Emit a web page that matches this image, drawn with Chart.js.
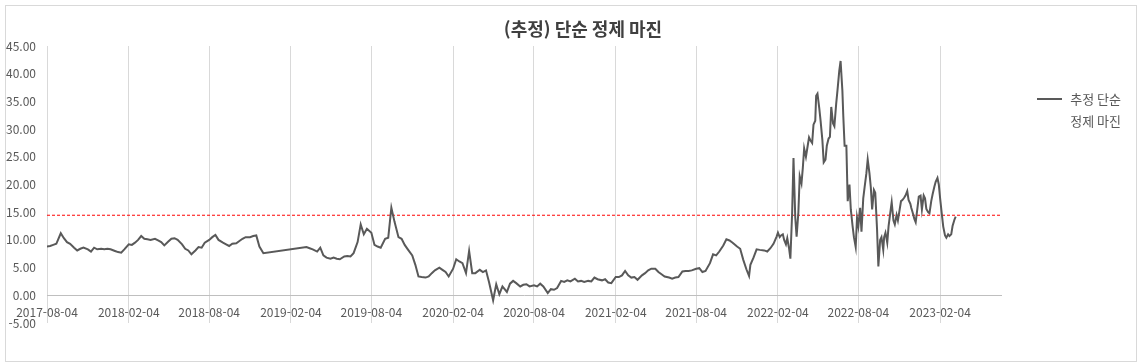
<!DOCTYPE html>
<html lang="ko">
<head>
<meta charset="utf-8">
<title>(추정) 단순 정제 마진</title>
<script src="https://cdn.jsdelivr.net/npm/chart.js@4.4.0/dist/chart.umd.min.js"></script>
<style>
  html, body { margin: 0; padding: 0; background: #fff; }
  #wrap { position: relative; width: 1144px; height: 364px; }
  #frame { position: absolute; left: 5px; top: 5px; width: 1130px; height: 355px; border: 1px solid #d9d9d9; pointer-events: none; }
  canvas { position: absolute; left: 0; top: 0; }
</style>
</head>
<body>
<div id="wrap">
  <canvas id="chart" width="1144" height="364"></canvas>
  <div id="frame"></div>
</div>
<script>
  const TITLE = "(추정) 단순 정제 마진";
  const legendLines = ["추정 단순", "정제 마진"];

  const tickLabels = [
    "2017-08-04", "2018-02-04", "2018-08-04", "2019-02-04", "2019-08-04", "2020-02-04",
    "2020-08-04", "2021-02-04", "2021-08-04", "2022-02-04", "2022-08-04", "2023-02-04",
  ];
  const axisStart = "2017-08-04";
  const axisEnd = "2023-06-21";
  const yMin = -5;
  const yMax = 45;
  const yStep = 5;
  const referenceLevel = 14.45;

  // one line per month, same layout in both arrays
  const dates = [
    "2017-08-04", "2017-08-11", "2017-08-18", "2017-08-25",
    "2017-09-04", "2017-09-11", "2017-09-18", "2017-09-25",
    "2017-10-04", "2017-10-11", "2017-10-18", "2017-10-25",
    "2017-11-04", "2017-11-11", "2017-11-18", "2017-11-25",
    "2017-12-04", "2017-12-11", "2017-12-18", "2017-12-25",
    "2018-01-04", "2018-01-11", "2018-01-18", "2018-01-25",
    "2018-02-04", "2018-02-11", "2018-02-18", "2018-02-25",
    "2018-03-04", "2018-03-11", "2018-03-18", "2018-03-25",
    "2018-04-04", "2018-04-11", "2018-04-18", "2018-04-25",
    "2018-05-04", "2018-05-11", "2018-05-18", "2018-05-25",
    "2018-06-04", "2018-06-11", "2018-06-18", "2018-06-25",
    "2018-07-04", "2018-07-11", "2018-07-18", "2018-07-25",
    "2018-08-04", "2018-08-11", "2018-08-18", "2018-08-25",
    "2018-09-04", "2018-09-11", "2018-09-18", "2018-09-25",
    "2018-10-04", "2018-10-11", "2018-10-18", "2018-10-25",
    "2018-11-04", "2018-11-11", "2018-11-18", "2018-11-25",
    "2018-12-04",
    "2019-03-11", "2019-03-18", "2019-03-25",
    "2019-04-04", "2019-04-11", "2019-04-18", "2019-04-25",
    "2019-05-04", "2019-05-11", "2019-05-18", "2019-05-25",
    "2019-06-04", "2019-06-11", "2019-06-18", "2019-06-25",
    "2019-07-04", "2019-07-11", "2019-07-18", "2019-07-25",
    "2019-08-04", "2019-08-11", "2019-08-18", "2019-08-25",
    "2019-09-04", "2019-09-11", "2019-09-18", "2019-09-25",
    "2019-10-04", "2019-10-11", "2019-10-18", "2019-10-25",
    "2019-11-04", "2019-11-11", "2019-11-18", "2019-11-25",
    "2019-12-04", "2019-12-11", "2019-12-18", "2019-12-25",
    "2020-01-04", "2020-01-11", "2020-01-18", "2020-01-25",
    "2020-02-04", "2020-02-11", "2020-02-18", "2020-02-25",
    "2020-03-04", "2020-03-11", "2020-03-18", "2020-03-25",
    "2020-04-04", "2020-04-11", "2020-04-18", "2020-04-25",
    "2020-05-04", "2020-05-11", "2020-05-18", "2020-05-25",
    "2020-06-04", "2020-06-11", "2020-06-18", "2020-06-25",
    "2020-07-04", "2020-07-11", "2020-07-18", "2020-07-25",
    "2020-08-04", "2020-08-11", "2020-08-18", "2020-08-25",
    "2020-09-04", "2020-09-11", "2020-09-18", "2020-09-25",
    "2020-10-04", "2020-10-11", "2020-10-18", "2020-10-25",
    "2020-11-04", "2020-11-11", "2020-11-18", "2020-11-25",
    "2020-12-04", "2020-12-11", "2020-12-18", "2020-12-25",
    "2021-01-04", "2021-01-11", "2021-01-18", "2021-01-25",
    "2021-02-04", "2021-02-11", "2021-02-18", "2021-02-25",
    "2021-03-04", "2021-03-11", "2021-03-18", "2021-03-25",
    "2021-04-04", "2021-04-11", "2021-04-18", "2021-04-25",
    "2021-05-04", "2021-05-11", "2021-05-18", "2021-05-25",
    "2021-06-04", "2021-06-11", "2021-06-18", "2021-06-25",
    "2021-07-04", "2021-07-11", "2021-07-18", "2021-07-25",
    "2021-08-04", "2021-08-11", "2021-08-18", "2021-08-25",
    "2021-09-04", "2021-09-11", "2021-09-18", "2021-09-25",
    "2021-10-04", "2021-10-11", "2021-10-18", "2021-10-25",
    "2021-11-04", "2021-11-11", "2021-11-18", "2021-11-25",
    "2021-12-01", "2021-12-04", "2021-12-11", "2021-12-18", "2021-12-25",
    "2022-01-04", "2022-01-11", "2022-01-18", "2022-01-25",
    "2022-02-01", "2022-02-04", "2022-02-08", "2022-02-11", "2022-02-15", "2022-02-18", "2022-02-22", "2022-02-25",
    "2022-03-01", "2022-03-04", "2022-03-08", "2022-03-11", "2022-03-15", "2022-03-18", "2022-03-22", "2022-03-25", "2022-03-29",
    "2022-04-01", "2022-04-04", "2022-04-08", "2022-04-11", "2022-04-15", "2022-04-18", "2022-04-22", "2022-04-25", "2022-04-29",
    "2022-05-01", "2022-05-04", "2022-05-08", "2022-05-11", "2022-05-15", "2022-05-18", "2022-05-22", "2022-05-25", "2022-05-29",
    "2022-06-01", "2022-06-04", "2022-06-08", "2022-06-11", "2022-06-15", "2022-06-18", "2022-06-22", "2022-06-25", "2022-06-29",
    "2022-07-01", "2022-07-04", "2022-07-08", "2022-07-11", "2022-07-15", "2022-07-18", "2022-07-22", "2022-07-25", "2022-07-29",
    "2022-08-01", "2022-08-04", "2022-08-08", "2022-08-11", "2022-08-15", "2022-08-18", "2022-08-22", "2022-08-25", "2022-08-29",
    "2022-09-01", "2022-09-04", "2022-09-08", "2022-09-11", "2022-09-15", "2022-09-18", "2022-09-22", "2022-09-25", "2022-09-29",
    "2022-10-01", "2022-10-04", "2022-10-08", "2022-10-11", "2022-10-15", "2022-10-18", "2022-10-22", "2022-10-25", "2022-10-29",
    "2022-11-01", "2022-11-04", "2022-11-08", "2022-11-11", "2022-11-15", "2022-11-18", "2022-11-22", "2022-11-25", "2022-11-29",
    "2022-12-01", "2022-12-04", "2022-12-08", "2022-12-11", "2022-12-15", "2022-12-18", "2022-12-22", "2022-12-25", "2022-12-29",
    "2023-01-01", "2023-01-04", "2023-01-08", "2023-01-11", "2023-01-15", "2023-01-18", "2023-01-22", "2023-01-25", "2023-01-29",
    "2023-02-01", "2023-02-04", "2023-02-08", "2023-02-11", "2023-02-15", "2023-02-18", "2023-02-22", "2023-02-25",
    "2023-03-01", "2023-03-04", "2023-03-08", "2023-03-11",
  ];

  const margins = [
    8.8, 8.9, 9.1, 9.3,
    11.2, 10.3, 9.6, 9.3,
    8.6, 8.1, 8.4, 8.6,
    8.3, 7.9, 8.6, 8.3,
    8.4, 8.3, 8.4, 8.3,
    8.0, 7.8, 7.7, 8.3,
    9.2, 9.1, 9.5, 10.0,
    10.7, 10.2, 10.1, 10.0,
    10.2, 9.9, 9.6, 9.0,
    9.7, 10.2, 10.3, 10.0,
    9.2, 8.4, 8.1, 7.4,
    8.1, 8.7, 8.6, 9.5,
    10.0, 10.5, 10.9, 10.0,
    9.5, 9.2, 8.9, 9.3,
    9.4, 9.8, 10.2, 10.5,
    10.5, 10.7, 10.8, 8.8,
    7.6,
    8.7, 8.5, 8.3,
    7.9, 8.6, 7.2, 6.8,
    6.6, 6.8, 6.6, 6.5,
    7.0, 7.1, 7.0, 7.6,
    9.6, 12.8, 11.0, 12.0,
    11.3, 9.1, 8.8, 8.6,
    10.2, 10.4, 15.8, 13.3,
    10.5, 10.2, 9.1, 8.3,
    7.2, 5.5, 3.4, 3.3,
    3.2, 3.4, 4.0, 4.5,
    5.0, 4.6, 4.2, 3.4,
    4.8, 6.5, 6.1, 5.8,
    4.0, 8.0, 4.0, 4.0,
    4.6, 4.2, 4.5, 2.3,
    -0.9, 2.0, 0.2, 1.6,
    0.6, 2.1, 2.6, 2.2,
    1.6, 1.9, 2.0, 1.6,
    1.8, 1.6, 2.1, 1.6,
    0.4, 1.1, 1.0, 1.3,
    2.6, 2.4, 2.7, 2.5,
    3.0, 2.5, 2.6, 2.4,
    2.6, 2.5, 3.2, 2.9,
    2.7, 2.9, 2.3, 2.2,
    3.3, 3.3, 3.6, 4.4,
    3.6, 3.2, 3.3, 2.8,
    3.6, 4.0, 4.5, 4.8,
    4.8, 4.2, 3.8, 3.4,
    3.2, 3.0, 3.2, 3.3,
    4.3, 4.4, 4.4, 4.5,
    4.8, 4.9, 4.2, 4.4,
    5.8, 7.4, 7.2, 7.9,
    9.0, 10.1, 9.9, 9.5,
    8.8, 8.4, 6.4, 4.7,
    3.5, 5.5, 6.8, 8.3, 8.2,
    8.1, 7.9, 8.5, 9.3,
    10.6, 11.3, 10.5, 10.8, 11.0, 10.0, 9.2, 10.3,
    8.5, 6.6, 15.0, 24.8, 14.0, 10.6, 15.0, 21.5, 20.2,
    23.0, 26.5, 25.0, 26.5, 28.5, 28.0, 27.5, 30.8, 31.5,
    36.0, 36.4, 33.8, 31.5, 28.0, 24.0, 24.5, 27.0, 28.3,
    28.6, 34.0, 31.0, 30.5, 34.5, 37.0, 40.5, 42.3, 37.0,
    32.5, 27.0, 27.0, 17.0, 20.0, 15.5, 12.5, 10.5, 8.7,
    14.0, 12.5, 15.8, 11.5, 17.5, 19.5, 22.0, 24.5, 22.0,
    19.5, 15.5, 19.0, 18.5, 12.0, 5.2, 10.0, 10.5, 8.2,
    10.5, 11.3, 9.5, 12.5, 15.0, 16.8, 13.5, 12.8, 14.5,
    13.5, 15.0, 17.0, 17.2, 17.6, 18.0, 18.8, 17.2, 16.5,
    15.8, 15.0, 13.8, 13.2, 15.8, 17.8, 18.0, 15.5, 18.0,
    17.5, 15.6, 15.0, 14.8, 17.0, 18.2, 19.6, 20.5, 21.2,
    20.0, 17.5, 14.5, 12.4, 10.8, 10.4, 11.0, 10.7,
    11.0, 12.5, 13.6, 14.2,
  ];

  const FONT = '"Noto Sans CJK KR", "Noto Sans", sans-serif';
  const TEXT_COLOR = "#595959";
  const LINE_COLOR = "#595959";

  const DAY = 86400000;
  const t0 = Date.parse(axisStart);
  function dayNum(s) {
    return (Date.parse(s) - t0) / DAY;
  }

  const seriesPoints = dates.map((d, i) => ({ x: dayNum(d), y: margins[i] }));
  const refPoints = [
    { x: 0, y: referenceLevel },
    { x: dayNum(axisEnd), y: referenceLevel },
  ];

  // title and the two-line legend, drawn like Excel does
  const decorations = {
    id: "decorations",
    afterDraw(chart) {
      const ctx = chart.ctx;
      ctx.save();
      ctx.fillStyle = "#404040";
      ctx.font = "bold 18px " + FONT;
      ctx.textAlign = "center";
      ctx.textBaseline = "middle";
      ctx.fillText(TITLE, 583, 29);

      ctx.strokeStyle = LINE_COLOR;
      ctx.lineWidth = 2;
      ctx.beginPath();
      ctx.moveTo(1037, 99);
      ctx.lineTo(1062, 99);
      ctx.stroke();

      ctx.fillStyle = TEXT_COLOR;
      ctx.font = "13px " + FONT;
      ctx.textAlign = "right";
      ctx.fillText(legendLines[0], 1121, 99);
      ctx.fillText(legendLines[1], 1121, 121);
      ctx.restore();
    },
  };

  Chart.defaults.font.family = FONT;
  Chart.defaults.font.size = 12;
  Chart.defaults.color = TEXT_COLOR;

  new Chart(document.getElementById("chart"), {
    type: "line",
    data: {
      datasets: [
        {
          label: legendLines.join(" "),
          data: seriesPoints,
          borderColor: LINE_COLOR,
          borderWidth: 2,
          pointRadius: 0,
          tension: 0,
          fill: false,
        },
        {
          label: "reference",
          data: refPoints,
          borderColor: "#ff0000",
          borderWidth: 1,
          borderDash: [3, 2],
          pointRadius: 0,
          fill: false,
        },
      ],
    },
    options: {
      responsive: false,
      animation: false,
      events: [],
      layout: { padding: { top: 46, right: 143, bottom: 41, left: 0 } },
      plugins: {
        legend: { display: false },
        title: { display: false },
        tooltip: { enabled: false },
      },
      scales: {
        x: {
          type: "linear",
          position: { y: 0 },
          min: 0,
          max: dayNum(axisEnd),
          afterBuildTicks(scale) {
            scale.ticks = tickLabels.map((s) => ({ value: dayNum(s) }));
          },
          ticks: {
            autoSkip: false,
            maxRotation: 0,
            padding: 10,
            color: TEXT_COLOR,
            callback: (value, index) => tickLabels[index],
          },
          grid: { color: "#d9d9d9", lineWidth: 1, drawTicks: false },
          border: { color: "#bfbfbf", width: 1 },
        },
        y: {
          min: yMin,
          max: yMax,
          afterFit(scale) {
            scale.width = 47;
          },
          ticks: {
            stepSize: yStep,
            padding: 11,
            color: TEXT_COLOR,
            callback: (v) => Number(v).toFixed(2),
          },
          grid: { display: false, drawTicks: false },
          border: { display: false },
        },
      },
    },
    plugins: [decorations],
  });
</script>
</body>
</html>
